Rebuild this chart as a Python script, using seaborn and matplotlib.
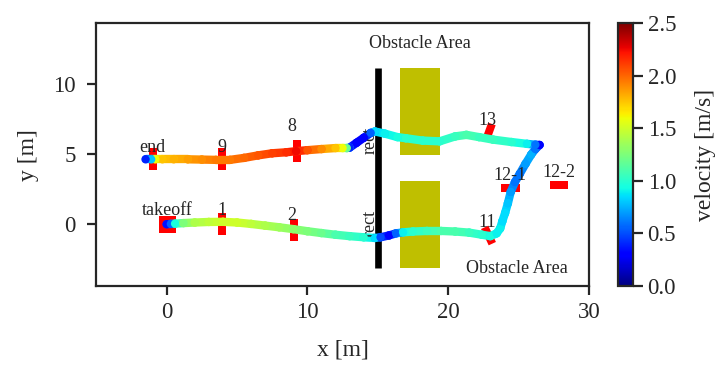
import numpy as np
import pandas as pd
import seaborn as sns
import matplotlib
matplotlib.use('Agg')
import matplotlib.pyplot as plt
from matplotlib.collections import LineCollection
from matplotlib.markers import MarkerStyle
from matplotlib.patches import Rectangle
from matplotlib.colors import Normalize
from matplotlib.cm import ScalarMappable

# flight path: takeoff -> around obstacle -> corner -> back to end
path_x = [0.0, 0.3, 0.6, 1.2, 2.0, 3.0, 4.0, 5.0, 6.0, 7.0, 8.0, 9.0, 10.0, 11.0, 12.0,
          13.0, 14.0, 14.8, 15.2, 15.8, 16.3, 16.8, 17.5, 18.5, 19.5, 20.5, 21.5, 22.4,
          23.0, 23.45, 23.7, 23.85, 24.05, 24.25, 24.45, 24.75, 25.1, 25.5, 25.9, 26.2,
          26.5,
          26.2, 25.6, 24.5, 23.2, 22.2, 21.3, 20.5, 19.4, 18.2, 17.0, 16.4, 15.5, 14.8,
          14.5, 14.0, 13.5, 13.0, 12.8, 12.5, 12.0, 11.0, 10.0, 9.2, 8.5, 7.5, 6.5, 5.5,
          4.5, 3.5, 2.5, 1.5, 0.5, -0.3, -0.8, -1.1, -1.5]
path_y = [0.0, 0.02, 0.04, 0.08, 0.12, 0.16, 0.17, 0.12, 0.02, -0.1, -0.22, -0.35, -0.5,
          -0.63, -0.75, -0.85, -0.93, -0.98, -0.93, -0.8, -0.65, -0.58, -0.52, -0.48,
          -0.48, -0.52, -0.6, -0.75, -0.85, -0.65, -0.3, 0.2, 0.8, 1.5, 2.3, 3.0, 3.6,
          4.3, 4.95, 5.35, 5.64,
          5.66, 5.72, 5.85, 6.02, 6.2, 6.36, 6.25, 5.9, 5.95, 6.12, 6.2, 6.45, 6.6,
          6.5, 6.15, 5.8, 5.45, 5.42, 5.42, 5.42, 5.35, 5.27, 5.2, 5.12, 5.05, 4.9, 4.72,
          4.58, 4.58, 4.6, 4.62, 4.62, 4.62, 4.62, 4.62, 4.62]
path_v = [0.35, 0.55, 0.95, 1.25, 1.4, 1.45, 1.5, 1.5, 1.45, 1.4, 1.35, 1.3, 1.25, 1.2,
          1.1, 1.05, 1.0, 0.85, 0.5, 0.3, 0.55, 0.9, 1.0, 1.05, 1.1, 1.1, 1.05, 1.0,
          0.95, 0.9, 0.9, 0.85, 0.85, 0.8, 0.7, 0.6, 0.6, 0.7, 0.75, 0.6, 0.3,
          0.6, 0.9, 1.0, 1.05, 1.05, 1.1, 1.05, 1.0, 1.0, 1.0, 0.95, 0.9, 0.85,
          0.55, 0.3, 0.3, 0.4, 1.2, 1.6, 1.75, 1.9, 2.05, 2.25, 2.15, 2.1, 2.05, 2.0,
          1.95, 1.95, 1.9, 1.85, 1.8, 1.75, 1.6, 0.8, 0.4]

# waypoints / gates
gate_names = ['takeoff', '1', '2', '11', '12-1', '12-2', '13', '8', '9', 'end']
gate_x = [0.0, 3.95, 9.03, 22.8, 24.4, 27.9, 22.9, 9.24, 3.95, -1.0]
gate_y = [0.0, 0.02, -0.43, -0.76, 2.6, 2.8, 6.7, 5.24, 4.61, 4.61]
gate_angle = [0, 0, 0, 25, 90, 90, -20, 0, 0, 0]
label_x = [0.06, 3.93, 8.9, 22.8, 24.4, 27.9, 22.8, 8.9, 3.9, -1.0]
label_y = [0.66, 0.66, 0.3, -0.17, 3.15, 3.39, 7.07, 6.6, 5.17, 5.17]

# obstacles
wall_x = 15.0
wall_y = [-3.1, 11.15]
box_x = [16.6, 19.4]
box_y = [[-3.1, 3.1], [4.9, 11.1]]

sns.set_style('ticks')
plt.rcParams['font.family'] = ['Liberation Serif', 'DejaVu Serif']

fig = plt.figure(figsize=(7.18, 3.65), dpi=100)
ax = fig.add_axes([0.1341, 0.2164, 0.686, 0.7197])
cax = fig.add_axes([0.8607, 0.2164, 0.0209, 0.7197])

jet = plt.get_cmap('jet')
norm = Normalize(0, 2.5)

# obstacle area
ax.plot([wall_x, wall_x], wall_y, color='black', lw=4.8, solid_capstyle='butt', zorder=1)
for y0, y1 in box_y:
    ax.add_patch(Rectangle((box_x[0], y0), box_x[1] - box_x[0], y1 - y0,
                           facecolor='y', edgecolor='none', zorder=1))

# gates as small red bars
gate_len = {'takeoff': 17, '12-1': 19, '12-2': 18, '11': 18, '13': 14}
for n, x, y, a in zip(gate_names, gate_x, gate_y, gate_angle):
    L = gate_len.get(n, 22)
    if n == 'takeoff':
        ax.plot(x, y, marker='s', ms=L * 0.72, color='red', mew=0, ls='none', zorder=2)
        continue
    h = 0.5 * 8.0 / L
    verts = [(-h, -0.5), (h, -0.5), (h, 0.5), (-h, 0.5), (-h, -0.5)]
    m = MarkerStyle(verts).rotated(deg=a)
    ax.plot(x, y, marker=m, ms=L * 0.72, color='red', mew=0, ls='none', zorder=2)

# trajectory coloured by velocity
pts = np.column_stack([path_x, path_y])
segs = np.stack([pts[:-1], pts[1:]], axis=1)
seg_v = (np.array(path_v[:-1]) + np.array(path_v[1:])) / 2
lc = LineCollection(segs, cmap=jet, norm=norm, linewidths=6, capstyle='round',
                    joinstyle='round', zorder=3)
lc.set_array(seg_v)
ax.add_collection(lc)
df = pd.DataFrame({'x': path_x, 'y': path_y, 'v': path_v})
sns.scatterplot(data=df, x='x', y='y', hue='v', palette=jet, hue_norm=(0, 2.5),
                s=36, linewidth=0, legend=False, ax=ax, zorder=4)

# labels
for n, x, y in zip(gate_names, label_x, label_y):
    ax.text(x, y, n, ha='center', va='baseline', fontsize=13, zorder=5)
ax.text(18.0, 12.53, 'Obstacle Area', ha='center', va='baseline', fontsize=13)
ax.text(24.9, -3.49, 'Obstacle Area', ha='center', va='baseline', fontsize=13)
ax.text(14.45, 5.93, 'rect', rotation=90, ha='center', va='center', fontsize=13)
ax.text(14.45, 0.02, 'rect', rotation=90, ha='center', va='center', fontsize=13)

ax.set_xlim(-5, 30)
ax.set_ylim(-4.4, 14.3)
ax.set_xticks([0, 10, 20, 30])
ax.set_yticks([0, 5, 10])
ax.set_xlabel('x [m]', fontsize=17)
ax.set_ylabel('y [m]', fontsize=17)
ax.xaxis.set_label_coords(0.5, -0.205)
ax.yaxis.set_label_coords(-0.116, 0.5)
ax.tick_params(direction='out', length=6.5, width=1.6, labelsize=16.5)
ax.tick_params(axis='x', pad=5)
ax.tick_params(axis='y', pad=8.5)
for s in ax.spines.values():
    s.set_linewidth(1.6)

sm = ScalarMappable(norm=norm, cmap=jet)
cb = fig.colorbar(sm, cax=cax, ticks=[0, 0.5, 1.0, 1.5, 2.0, 2.5], format='%.1f')
cb.outline.set_linewidth(1.6)
cax.tick_params(length=7, width=1.6, labelsize=16.5, pad=3.5)
cb.set_label('velocity [m/s]', fontsize=17)
cax.yaxis.set_label_coords(5.13, 0.5)

fig.savefig('out.png', dpi=100)
